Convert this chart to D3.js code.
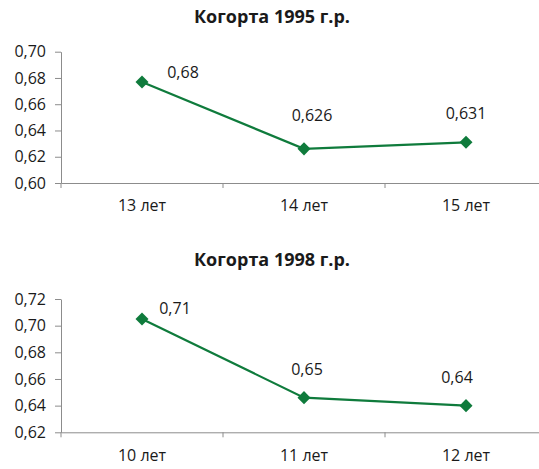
<!DOCTYPE html>
<html><head><meta charset="utf-8">
<script src="https://cdn.jsdelivr.net/npm/d3@7"></script>
<style>
html,body{margin:0;padding:0;background:#fff;}
svg{display:block;}
text{font-family:"Open Sans","Noto Sans",sans-serif;fill:#1a1a1a;}
</style></head>
<body>
<svg id="c" width="539" height="469"></svg>
<script>
// ---- data ----
const titles = ["Когорта 1995 г.р.", "Когорта 1998 г.р."];
const categories1 = ["13 лет", "14 лет", "15 лет"];
const values1 = [0.677, 0.626, 0.631];
const labels1 = ["0,68", "0,626", "0,631"];
const yTicks1 = [0.60, 0.62, 0.64, 0.66, 0.68, 0.70];

const categories2 = ["10 лет", "11 лет", "12 лет"];
const values2 = [0.705, 0.646, 0.640];
const labels2 = ["0,71", "0,65", "0,64"];
const yTicks2 = [0.62, 0.64, 0.66, 0.68, 0.70, 0.72];

// ---- layout / style ----
const green = "#0f7b3c";
const axisColor = "#8c8c8c";
const fs = "16px";
const svg = d3.select("#c");
const fmt = v => d3.format(".2f")(v).replace(".", ",");

const panels = [
  {title: titles[0], cats: categories1, vals: values1, labs: labels1, ticks: yTicks1,
   titleY: 23, top: 51.7, bottom: 183,
   labOff: [[41, -9], [8, -33], [0, -29]]},
  {title: titles[1], cats: categories2, vals: values2, labs: labels2, ticks: yTicks2,
   titleY: 266, top: 299, bottom: 432.3,
   labOff: [[33, -11], [3, -28], [-9, -28]]}
];

panels.forEach(p => {
  const g = svg.append("g");
  const x = d3.scaleBand().domain(p.cats).range([61, 547]);
  const y = d3.scaleLinear().domain([p.ticks[0], p.ticks[p.ticks.length - 1]]).range([p.bottom, p.top]);

  g.append("text").attr("x", 272).attr("y", p.titleY).attr("text-anchor", "middle")
    .style("font-weight", "bold").style("font-size", "18px").text(p.title);

  // y axis
  const ya = g.append("g").attr("transform", "translate(61,0)")
    .call(d3.axisLeft(y).tickValues(p.ticks).tickFormat(fmt).tickSize(6).tickSizeOuter(0).tickPadding(9));
  ya.select(".domain").attr("stroke", axisColor);
  ya.selectAll(".tick line").attr("stroke", axisColor);
  ya.selectAll(".tick text").style("font-size", fs).attr("fill", "#1a1a1a").style("font-family", null);

  // x axis
  const xa = g.append("g").attr("transform", `translate(0,${p.bottom})`)
    .call(d3.axisBottom(x).tickSize(0).tickPadding(17));
  xa.select(".domain").attr("stroke", axisColor);
  xa.selectAll(".tick text").style("font-size", fs).attr("fill", "#1a1a1a").style("font-family", null);
  // tick marks at band boundaries
  const bounds = p.cats.map(c => x(c)).concat([x.range()[1]]);
  g.selectAll(".bt").data(bounds).join("line")
    .attr("x1", d => d).attr("x2", d => d)
    .attr("y1", p.bottom).attr("y2", p.bottom + 5)
    .attr("stroke", axisColor);

  const cx = c => x(c) + x.bandwidth() / 2;
  const pts = p.cats.map((c, i) => [cx(c), y(p.vals[i])]);

  g.append("path").attr("d", d3.line()(pts)).attr("fill", "none")
    .attr("stroke", green).attr("stroke-width", 2.2);

  g.selectAll(".m").data(pts).join("path")
    .attr("d", d3.symbol(d3.symbolSquare, 85)())
    .attr("transform", d => `translate(${d[0]},${d[1]}) rotate(45)`)
    .attr("fill", green);

  g.selectAll(".lab").data(pts).join("text")
    .attr("x", (d, i) => d[0] + p.labOff[i][0])
    .attr("y", (d, i) => d[1] + p.labOff[i][1])
    .attr("text-anchor", "middle").attr("dy", "0.35em")
    .style("font-size", fs)
    .text((d, i) => p.labs[i]);
});
</script>
</body></html>
